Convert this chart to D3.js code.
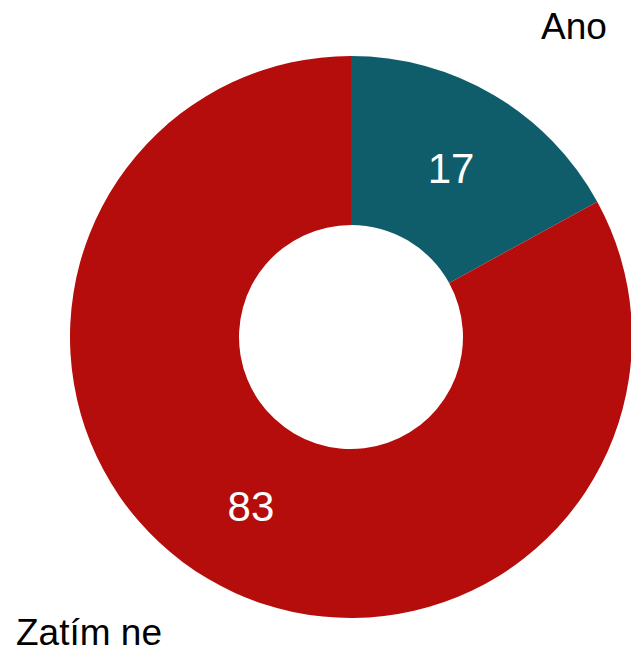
<!DOCTYPE html>
<html>
<head>
<meta charset="utf-8">
<script src="https://cdn.jsdelivr.net/npm/d3@7"></script>
<style>
  html, body { margin: 0; padding: 0; background: #fff; }
  svg { display: block; }
  text { font-family: "Liberation Sans", Arial, sans-serif; }
</style>
</head>
<body>
<script>
// Survey answers and their shares (percent)
const categories = ["Ano", "Zatím ne"];
const values = [17, 83];
const colors = ["#0f5d6b", "#b50d0b"];

const width = 631, height = 652;
const cx = 351, cy = 337;
const outerR = 281, innerR = 112;

const svg = d3.select("body").append("svg")
  .attr("width", width)
  .attr("height", height);

const pie = d3.pie().sort(null).value(d => d.value);
const arc = d3.arc().innerRadius(innerR).outerRadius(outerR);

const data = categories.map((c, i) => ({ name: c, value: values[i], color: colors[i] }));
const arcs = pie(data);

const g = svg.append("g").attr("transform", `translate(${cx},${cy})`);

g.selectAll("path")
  .data(arcs)
  .join("path")
  .attr("d", arc)
  .attr("fill", d => d.data.color);

// Value labels at the centre of each ring segment
g.selectAll("text.value")
  .data(arcs)
  .join("text")
  .attr("class", "value")
  .attr("transform", d => `translate(${arc.centroid(d)})`)
  .attr("text-anchor", "middle")
  .attr("dy", "0.36em")
  .attr("fill", "#ffffff")
  .attr("font-size", 42)
  .text(d => d.data.value);

// Category names placed outside the ring
const namePos = [
  { x: 541, y: 39, anchor: "start" },
  { x: 16, y: 645, anchor: "start" }
];
svg.selectAll("text.name")
  .data(data)
  .join("text")
  .attr("class", "name")
  .attr("x", (d, i) => namePos[i].x)
  .attr("y", (d, i) => namePos[i].y)
  .attr("text-anchor", (d, i) => namePos[i].anchor)
  .attr("fill", "#000")
  .attr("font-size", 37)
  .text(d => d.name);
</script>
</body>
</html>
